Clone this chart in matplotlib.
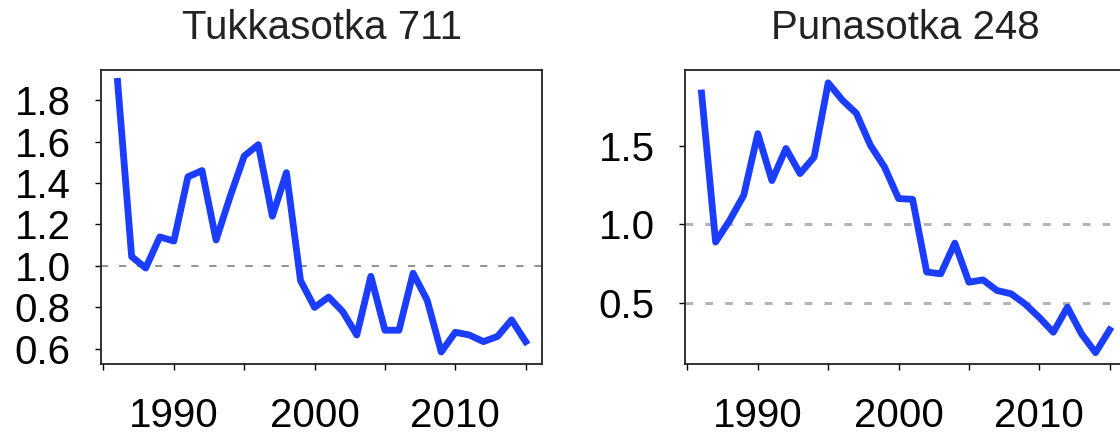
import matplotlib
matplotlib.use("Agg")
import matplotlib.pyplot as plt

plt.rcParams['font.family'] = ['Liberation Sans', 'DejaVu Sans']

years = list(range(1986, 2016))

tukkasotka = [1.89, 1.045, 0.99, 1.14, 1.12, 1.43, 1.46, 1.125, 1.335, 1.53,
              1.585, 1.24, 1.45, 0.93, 0.80, 0.85, 0.78, 0.667, 0.95, 0.69,
              0.69, 0.965, 0.835, 0.585, 0.68, 0.667, 0.635, 0.66, 0.74, 0.635]

punasotka = [1.84, 0.887, 1.026, 1.186, 1.58, 1.28, 1.485, 1.325, 1.43, 1.905,
             1.795, 1.71, 1.506, 1.367, 1.165, 1.16, 0.695, 0.684, 0.88, 0.63,
             0.645, 0.577, 0.556, 0.49, 0.405, 0.31, 0.47, 0.30, 0.18, 0.325]

x_ticks = [1985, 1990, 1995, 2000, 2005, 2010, 2015]
x_labels = ['', '1990', '', '2000', '', '2010', '']

left_yticks = [0.6, 0.8, 1.0, 1.2, 1.4, 1.6, 1.8]
left_ylabels = ['0.6', '0.8', '1.0', '1.2', '1.4', '1.6', '1.8']
right_yticks = [0.5, 1.0, 1.5]
right_ylabels = ['0.5', '1.0', '1.5']

blue = '#1a3dff'
fs = 29

fig = plt.figure(figsize=(11.2, 4.37), dpi=100)

ax1 = fig.add_axes([0.0904, 0.167, 0.3935, 0.6728])
ax2 = fig.add_axes([0.6118, 0.167, 0.3935, 0.6728])


def setup(ax, title, yticks, ylabels, ylim):
    ax.set_xlim(1984.84, 2016.16)
    ax.set_ylim(*ylim)
    ax.set_xticks(x_ticks)
    ax.set_xticklabels(x_labels)
    ax.set_yticks(yticks)
    ax.set_yticklabels(ylabels)
    ax.tick_params(axis='x', length=4, width=1, pad=20, labelsize=fs)
    ax.tick_params(axis='y', length=4, width=1, pad=18, labelsize=fs)
    for s in ax.spines.values():
        s.set_linewidth(1.3)
        s.set_color('#222222')
    ax.set_title(title, fontsize=fs, pad=22, color='#222222')


setup(ax1, 'Tukkasotka 711', left_yticks, left_ylabels, (0.527, 1.945))
ax1.axhline(1.0, color='#888888', lw=1.3, ls=(0, (4, 6)))
ax1.plot(years, tukkasotka, color=blue, lw=4.9, solid_joinstyle='round')

setup(ax2, 'Punasotka 248', right_yticks, right_ylabels, (0.107, 1.987))
ax2.axhline(1.0, color='#b4b4b4', lw=2.2, ls=(0, (2.5, 4)))
ax2.axhline(0.5, color='#b4b4b4', lw=2.2, ls=(0, (2.5, 4)))
ax2.plot(years, punasotka, color=blue, lw=4.9, solid_joinstyle='round')

fig.savefig('out.png', dpi=100)
